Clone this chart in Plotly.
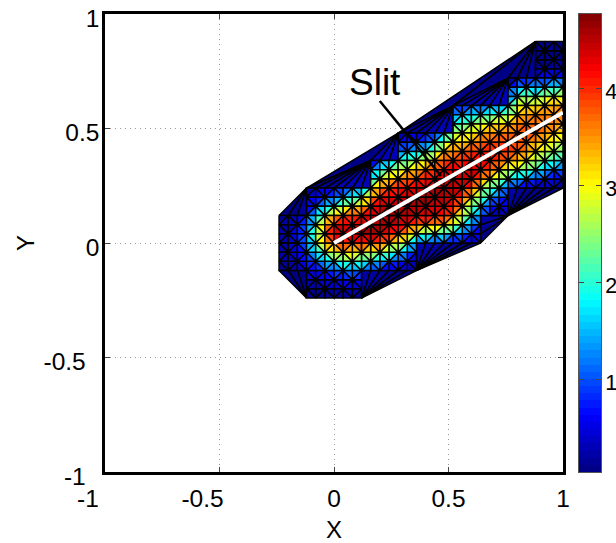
import plotly.graph_objects as go

# Mesh node coordinates
x_nodes = [round(-0.24 + 0.04 * i, 2) for i in range(32)]
y_nodes = [round(0.88 - 0.04 * j, 2) for j in range(29)]

# y of the first value in each node column (values run downward from there)
col_top = [0.12, 0.12, 0.12,
           0.24, 0.24, 0.24, 0.24, 0.24, 0.24, 0.24,
           0.36, 0.36, 0.36,
           0.48, 0.48, 0.48, 0.48, 0.48, 0.48,
           0.60, 0.60, 0.60, 0.60, 0.60, 0.60,
           0.72, 0.72, 0.72,
           0.88, 0.88, 0.88, 0.88]

# Nodal values, one list per x node
col_values = [
    [.1, .15, .2, .2, .2, .15, .1],
    [.2, .25, .3, .3, .3, .2, .1],
    [.3, .45, .6, .6, .5, .35, .2],
    [.2, .3, .4, .7, 1.0, 1.2, 1.2, 1.0, .7, .4, .3, .2, .1],
    [.3, .5, .9, 1.6, 2.2, 2.4, 2.3, 1.7, 1.1, .6, .35, .2, .1],
    [.4, .8, 1.5, 2.6, 3.3, 3.5, 3.4, 2.4, 1.5, .8, .4, .2, .1],
    [.5, 1.0, 2.0, 3.4, 4.2, 4.4, 3.9, 3.0, 1.9, 1.0, .5, .25, .1],
    [.8, 1.4, 2.6, 3.7, 4.3, 4.5, 3.9, 3.2, 2.3, 1.2, .6, .3, .1],
    [1.1, 1.9, 3.0, 3.9, 4.4, 4.6, 3.9, 3.1, 2.3, 1.2, .7, .35, .15],
    [1.2, 2.1, 3.2, 4.0, 4.5, 4.6, 3.9, 3.0, 2.1, 1.1, .6, .3, .1],
    [.3, .7, 1.5, 2.5, 3.4, 4.0, 4.5, 4.6, 4.6, 3.9, 2.9, 1.7, .8],
    [1.0, 1.9, 2.9, 3.6, 4.1, 4.4, 4.6, 4.6, 4.5, 3.8, 2.8, 1.5, .6],
    [1.4, 2.2, 3.2, 3.8, 4.2, 4.5, 4.6, 4.5, 4.1, 3.3, 2.3, 1.1, .4],
    [.2, .5, 1.1, 1.9, 2.8, 3.6, 4.1, 4.4, 4.6, 4.6, 4.4, 3.8, 3.0, 1.8, .9, .3],
    [.3, .8, 1.4, 2.2, 3.0, 3.7, 4.2, 4.5, 4.6, 4.6, 4.2, 3.4, 2.5, 1.2, .6, .25],
    [.3, .9, 1.6, 2.5, 3.3, 3.9, 4.4, 4.6, 4.6, 4.4, 3.7, 2.4, 1.0, .5, .25, .1],
    [.4, 1.0, 1.9, 2.9, 3.7, 4.1, 4.5, 4.6, 4.5, 4.3, 3.6, 2.2, .9],
    [.7, 1.5, 2.4, 3.3, 3.9, 4.3, 4.6, 4.6, 4.4, 4.2, 3.5, 2.0, .8],
    [1.3, 2.5, 3.3, 3.8, 4.2, 4.5, 4.6, 4.5, 4.4, 4.1, 3.3, 1.9, .7],
    [.6, 1.2, 1.9, 2.6, 3.1, 3.5, 3.9, 4.3, 4.5, 4.5, 4.4, 4.1, 3.6, 2.8, 1.5, .6],
    [.7, 1.5, 2.1, 2.8, 3.2, 3.7, 4.0, 4.4, 4.5, 4.4, 4.0, 3.3, 2.7, 2.0, 1.1, .4],
    [.8, 1.7, 2.4, 3.0, 3.4, 3.9, 4.2, 4.4, 4.4, 3.8, 3.0, 2.4, 1.9, 1.3, .8, .3],
    [.9, 1.9, 2.8, 3.3, 3.7, 4.0, 4.3, 4.3, 3.6, 3.0, 2.5, 1.8, 1.1, .7, .4, .15],
    [1.0, 2.1, 3.0, 3.5, 3.8, 4.1, 4.1, 3.9, 2.9, 2.2, 1.4, .8, .3],
    [1.2, 2.3, 3.2, 3.6, 3.9, 4.1, 3.9, 3.3, 2.6, 1.8, 1.0, .5, .2],
    [.1, .4, .9, 1.4, 2.5, 3.2, 3.6, 3.9, 4.0, 3.5, 2.7, 1.8, .8, .6, .4, .2],
    [.3, 1.3, 2.2, 2.9, 3.3, 3.6, 3.8, 3.8, 3.8, 3.3, 2.5, 1.6, .5],
    [.5, 1.6, 2.5, 3.1, 3.4, 3.7, 3.8, 3.7, 3.5, 3.0, 2.3, 1.2, .4],
    [.05, .08, .1, .15, .6, 1.3, 2.2, 3.0, 3.5, 3.7, 3.8, 3.4, 3.0, 2.6, 2.0, .9, .25],
    [.05, .08, .1, .15, .7, 1.7, 2.7, 3.3, 3.6, 3.7, 3.5, 3.2, 2.8, 2.3, 1.5, .7, .2],
    [.05, .08, .1, .2, .8, 1.8, 2.8, 3.4, 3.6, 3.6, 3.3, 2.9, 2.5, 2.0, 1.2, .5, .15],
    [.05, .08, .1, .25, .8, 1.9, 2.9, 3.4, 3.6, 3.4, 3.1, 2.7, 2.3, 1.8, 1.0, .4, .1],
]

# Refined band of square cells: top and bottom y of each of the 31 cell columns
cell_top = [0.12] * 3 + [0.24] * 7 + [0.36] * 3 + [0.48] * 6 + [0.60] * 6 + [0.72] * 3 + [0.88] * 3
cell_bottom = [-0.12] * 3 + [-0.24] * 6 + [-0.12] * 6 + [0.0] * 7 + [0.12] * 3 + [0.24] * 6

# Coarse fan triangles between the refined band and the outer boundary: (apex, chain of nodes)
fans = [
    ((-0.12, 0.24), [(-0.24, 0.12), (-0.20, 0.12), (-0.16, 0.12), (-0.12, 0.12)]),
    ((-0.12, -0.24), [(-0.24, -0.12), (-0.20, -0.12), (-0.16, -0.12), (-0.12, -0.12)]),
    ((0.16, 0.36), [(-0.12, 0.24), (-0.08, 0.24), (-0.04, 0.24), (0.0, 0.24), (0.04, 0.24), (0.08, 0.24), (0.12, 0.24), (0.16, 0.24)]),
    ((0.28, 0.48), [(-0.12, 0.24), (0.16, 0.36), (0.20, 0.36), (0.24, 0.36), (0.28, 0.36)]),
    ((0.52, 0.60), [(0.28, 0.48), (0.32, 0.48), (0.36, 0.48), (0.40, 0.48), (0.44, 0.48), (0.48, 0.48), (0.52, 0.48)]),
    ((0.76, 0.72), [(0.52, 0.60), (0.56, 0.60), (0.60, 0.60), (0.64, 0.60), (0.68, 0.60), (0.72, 0.60), (0.76, 0.60)]),
    ((0.88, 0.88), [(0.28, 0.48), (0.52, 0.60), (0.76, 0.72), (0.80, 0.72), (0.84, 0.72), (0.88, 0.72)]),
    ((0.12, -0.24), [(0.12, -0.12), (0.16, -0.12), (0.20, -0.12), (0.24, -0.12), (0.28, -0.12), (0.32, -0.12), (0.36, -0.12)]),
    ((0.36, -0.12), [(0.36, 0.0), (0.40, 0.0), (0.44, 0.0), (0.48, 0.0), (0.52, 0.0), (0.56, 0.0), (0.60, 0.0), (0.64, 0.0)]),
    ((0.76, 0.12), [(0.64, 0.0), (0.64, 0.04), (0.64, 0.08), (0.64, 0.12), (0.68, 0.12), (0.72, 0.12)]),
    ((0.76, 0.12), [(0.76, 0.24), (0.80, 0.24), (0.84, 0.24), (0.88, 0.24), (0.92, 0.24), (0.96, 0.24), (1.0, 0.24)]),
]
fan_value_scale = 0.4
fan_value_cap = 0.3

slit_x = [0.0, 1.0]
slit_y = [0.0, 0.57]
leader_x = [0.20, 0.467]
leader_y = [0.62, 0.293]

NB = "\u00a0"
axis_ticks = [-1, -0.5, 0, 0.5, 1]
x_ticklabels = ["-1" + NB * 5, "-0.5" + NB * 5, "0", "0.5", "1"]
y_ticklabels = ["-1" + NB * 2, "-0.5" + NB * 2, "0", "0.5", "1"]
cbar_ticks = [1, 2, 3, 4]
cbar_ticklabels = ["1", "2", "3", "4"]
c_min, c_max = 0.05, 4.77
n_levels = 64

FONT = "Liberation Sans"


def jet(t):
    def ramp(v):
        return max(0.0, min(1.0, v))
    r = ramp(1.5 - abs(4 * t - 3))
    g = ramp(1.5 - abs(4 * t - 2))
    b = ramp(1.5 - abs(4 * t - 1))
    return f"rgb({round(r*255)},{round(g*255)},{round(b*255)})"


level_colors = [jet((k + 0.5) / n_levels) for k in range(n_levels)]


def node_value(x, y):
    i = round((x + 0.24) / 0.04)
    j = round((col_top[i] - y) / 0.04)
    vals = col_values[i]
    if 0 <= j < len(vals):
        return vals[j]
    return 0.1


def level_of(v):
    k = int((v - c_min) / (c_max - c_min) * n_levels)
    return max(0, min(n_levels - 1, k))


buckets = {k: ([], []) for k in range(n_levels)}


def add_triangle(points, scale=1.0, cap=99.0):
    v = min(cap, scale * sum(node_value(*p) for p in points) / 3)
    bx, by = buckets[level_of(v)]
    for p in points + [points[0]]:
        bx.append(p[0])
        by.append(p[1])
    bx.append(None)
    by.append(None)


for apex, chain in fans:
    for a, b in zip(chain[:-1], chain[1:]):
        add_triangle([apex, a, b], fan_value_scale, fan_value_cap)

for i in range(31):
    x0, x1 = x_nodes[i], x_nodes[i + 1]
    for j in range(28):
        y0, y1 = y_nodes[j], y_nodes[j + 1]
        if y0 > cell_top[i] + 1e-6 or y1 < cell_bottom[i] - 1e-6:
            continue
        if (i + j) % 2 == 0:
            add_triangle([(x0, y0), (x1, y0), (x1, y1)])
            add_triangle([(x0, y0), (x1, y1), (x0, y1)])
        else:
            add_triangle([(x0, y0), (x1, y0), (x0, y1)])
            add_triangle([(x1, y0), (x1, y1), (x0, y1)])

fig = go.Figure()
for k in range(n_levels):
    bx, by = buckets[k]
    if not bx:
        continue
    fig.add_trace(go.Scatter(x=bx, y=by, mode="lines", fill="toself", fillcolor=level_colors[k],
                             line=dict(color="black", width=1.5), hoverinfo="skip", showlegend=False))

fig.add_trace(go.Scatter(x=leader_x, y=leader_y, mode="lines", line=dict(color="black", width=2.5),
                         hoverinfo="skip", showlegend=False))
fig.add_trace(go.Scatter(x=slit_x, y=slit_y, mode="lines", line=dict(color="white", width=4),
                         hoverinfo="skip", showlegend=False))

step = (c_max - c_min) / n_levels
bar_levels = [c_min + (k + 0.5) * step for k in range(n_levels)]
bar_scale = []
for k, col in enumerate(level_colors):
    bar_scale.append([k / n_levels, col])
    bar_scale.append([(k + 1) / n_levels, col])
fig.add_trace(go.Heatmap(x=[0], y=bar_levels, z=[[v] for v in bar_levels], zmin=c_min, zmax=c_max,
                         colorscale=bar_scale, showscale=False, hoverinfo="skip",
                         xaxis="x2", yaxis="y2"))

axis_style = dict(range=[-1, 1], tickmode="array", tickvals=axis_ticks,
                  ticks="inside", ticklen=5, tickwidth=1, tickcolor="#444444", automargin=False,
                  showline=True, linecolor="black", linewidth=2.5, mirror="ticks",
                  showgrid=True, gridcolor="#999999", griddash="1px,4px", gridwidth=1, zeroline=False,
                  tickfont=dict(family=FONT, size=24.5, color="black"))

fig.update_layout(
    width=616, height=543, autosize=False,
    margin=dict(l=0, r=0, t=0, b=0),
    paper_bgcolor="white", plot_bgcolor="white",
    font=dict(family=FONT, size=24, color="black"),
    showlegend=False,
    xaxis=dict(domain=[105 / 616, 563 / 616], anchor="y", ticktext=x_ticklabels, ticklabelstandoff=3,
               title=dict(text="X", font=dict(family=FONT, size=24, color="black"), standoff=12),
               **axis_style),
    yaxis=dict(domain=[(543 - 472) / 543, (543 - 14) / 543], anchor="x", ticktext=y_ticklabels, ticklabelshift=4,
               ticklabelstandoff=-2,
               title=dict(text="Y", font=dict(family=FONT, size=24, color="black"), standoff=3),
               **axis_style),
    xaxis2=dict(domain=[579 / 616, 601 / 616], anchor="y2", range=[-0.5, 0.5], showticklabels=False,
                ticks="", showgrid=False, zeroline=False, showline=True, linecolor="#555555",
                linewidth=1, mirror=True, automargin=False),
    yaxis2=dict(domain=[(543 - 472) / 543, (543 - 14) / 543], anchor="x2", side="right", range=[c_min, c_max],
                tickmode="array", tickvals=cbar_ticks, ticktext=cbar_ticklabels, ticks="inside", ticklen=5,
                tickcolor="#444444", showgrid=False, zeroline=False, showline=True, linecolor="#555555",
                linewidth=1, mirror="ticks", automargin=False, ticklabelshift=3, ticklabelstandoff=-1,
                tickfont=dict(family=FONT, size=21.5, color="black")),
    annotations=[dict(x=0.18, y=0.70, xref="x", yref="y", text="Slit", showarrow=False,
                      font=dict(family=FONT, size=37, color="black"))],
)

fig.write_html("out.html", config=dict(displayModeBar=False),
               post_script="document.body.style.margin='0';")
